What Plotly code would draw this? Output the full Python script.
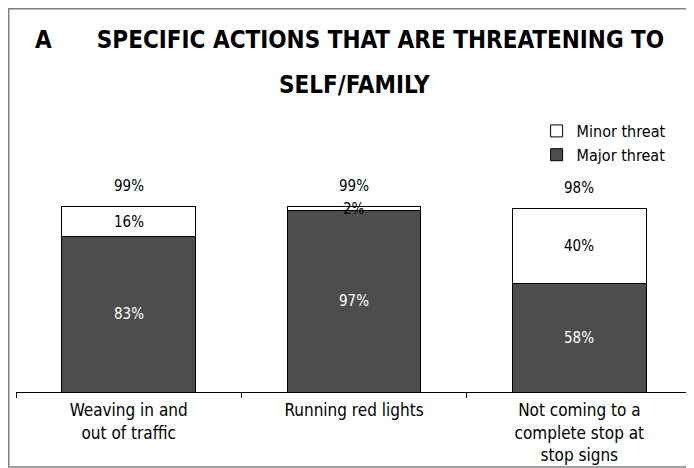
import plotly.graph_objects as go

categories = ["Weaving in and<br>out of traffic", "Running red lights",
              "Not coming to a<br>complete stop at<br>stop signs"]
major = [83, 97, 58]
minor = [16, 2, 40]
totals = [99, 99, 98]
title_line1 = "A\u00a0\u00a0\u00a0\u00a0\u00a0\u00a0SPECIFIC ACTIONS THAT ARE THREATENING TO"
title_line2 = "SELF/FAMILY"

NARROW = "DejaVu Sans Condensed, Liberation Sans Narrow, Arial Narrow, Liberation Sans, sans-serif"
DARK = "#4d4d4d"

# the page body adds an 8px margin; work in reference-pixel space and shift
OFF = 8
W, H = 694 - OFF, 468 - OFF
PL, PR, PT, PB = 16, 692.5, 205, 392          # plot area in reference pixels
ML, MR = PL - OFF, W - (PR - OFF)
MT, MB = PT - OFF, H - (PB - OFF)
pw = PR - PL
ph = PB - PT

def px_x(x):
    return (x - PL) / pw

def px_y(y):
    return (PB - y) / ph

fig = go.Figure()
fig.add_trace(go.Bar(x=categories, y=major, name="Major threat",
                     marker=dict(color=DARK, line=dict(color="black", width=1)),
                     hoverinfo="skip"))
fig.add_trace(go.Bar(x=categories, y=minor, name="Minor threat",
                     marker=dict(color="white", line=dict(color="black", width=1)),
                     hoverinfo="skip"))

annotations = []
for c, mj, mn, t in zip(categories, major, minor, totals):
    annotations.append(dict(x=c, y=mj / 2, text=f"{mj}%", showarrow=False,
                            font=dict(family=NARROW, size=15, color="white")))
    annotations.append(dict(x=c, y=mj + mn / 2, text=f"{mn}%", showarrow=False,
                            font=dict(family=NARROW, size=15, color="black")))
    annotations.append(dict(x=c, y=mj + mn, text=f"{t}%", showarrow=False,
                            yshift=21, font=dict(family=NARROW, size=15, color="black")))

annotations.append(dict(xref="paper", yref="paper", x=px_x(350), y=px_y(40),
                        text=f"<b>{title_line1}</b>", showarrow=False,
                        xanchor="center", yanchor="middle",
                        font=dict(family=NARROW, size=24, color="black")))
annotations.append(dict(xref="paper", yref="paper", x=px_x(355), y=px_y(85),
                        text=f"<b>{title_line2}</b>", showarrow=False,
                        xanchor="center", yanchor="middle",
                        font=dict(family=NARROW, size=24, color="black")))

fig.update_layout(
    width=W, height=H,
    margin=dict(l=ML, r=MR, t=MT, b=MB, pad=0),
    barmode="stack", bargap=0.406,
    plot_bgcolor="white", paper_bgcolor="white",
    showlegend=True,
    legend=dict(x=px_x(537), y=px_y(114), xanchor="left", yanchor="top",
                traceorder="reversed", font=dict(family=NARROW, size=16, color="black"),
                bgcolor="rgba(0,0,0,0)", tracegroupgap=0),
    xaxis=dict(range=[-0.5, 2.5], showline=True, linecolor="black", linewidth=1,
               ticks="outside", tickson="boundaries", ticklen=5, tickcolor="black",
               ticklabelstandoff=3,
               tickfont=dict(family=NARROW, size=17, color="black"), fixedrange=True),
    yaxis=dict(range=[0, 100], visible=False, showgrid=False, fixedrange=True),
    annotations=annotations,
    shapes=[dict(type="rect", xref="paper", yref="paper",
                 x0=px_x(OFF + 0.75), x1=px_x(720), y0=px_y(467), y1=px_y(OFF + 0.75),
                 line=dict(color="#808080", width=1.5), layer="below")],
)

fig.write_html("out.html")
